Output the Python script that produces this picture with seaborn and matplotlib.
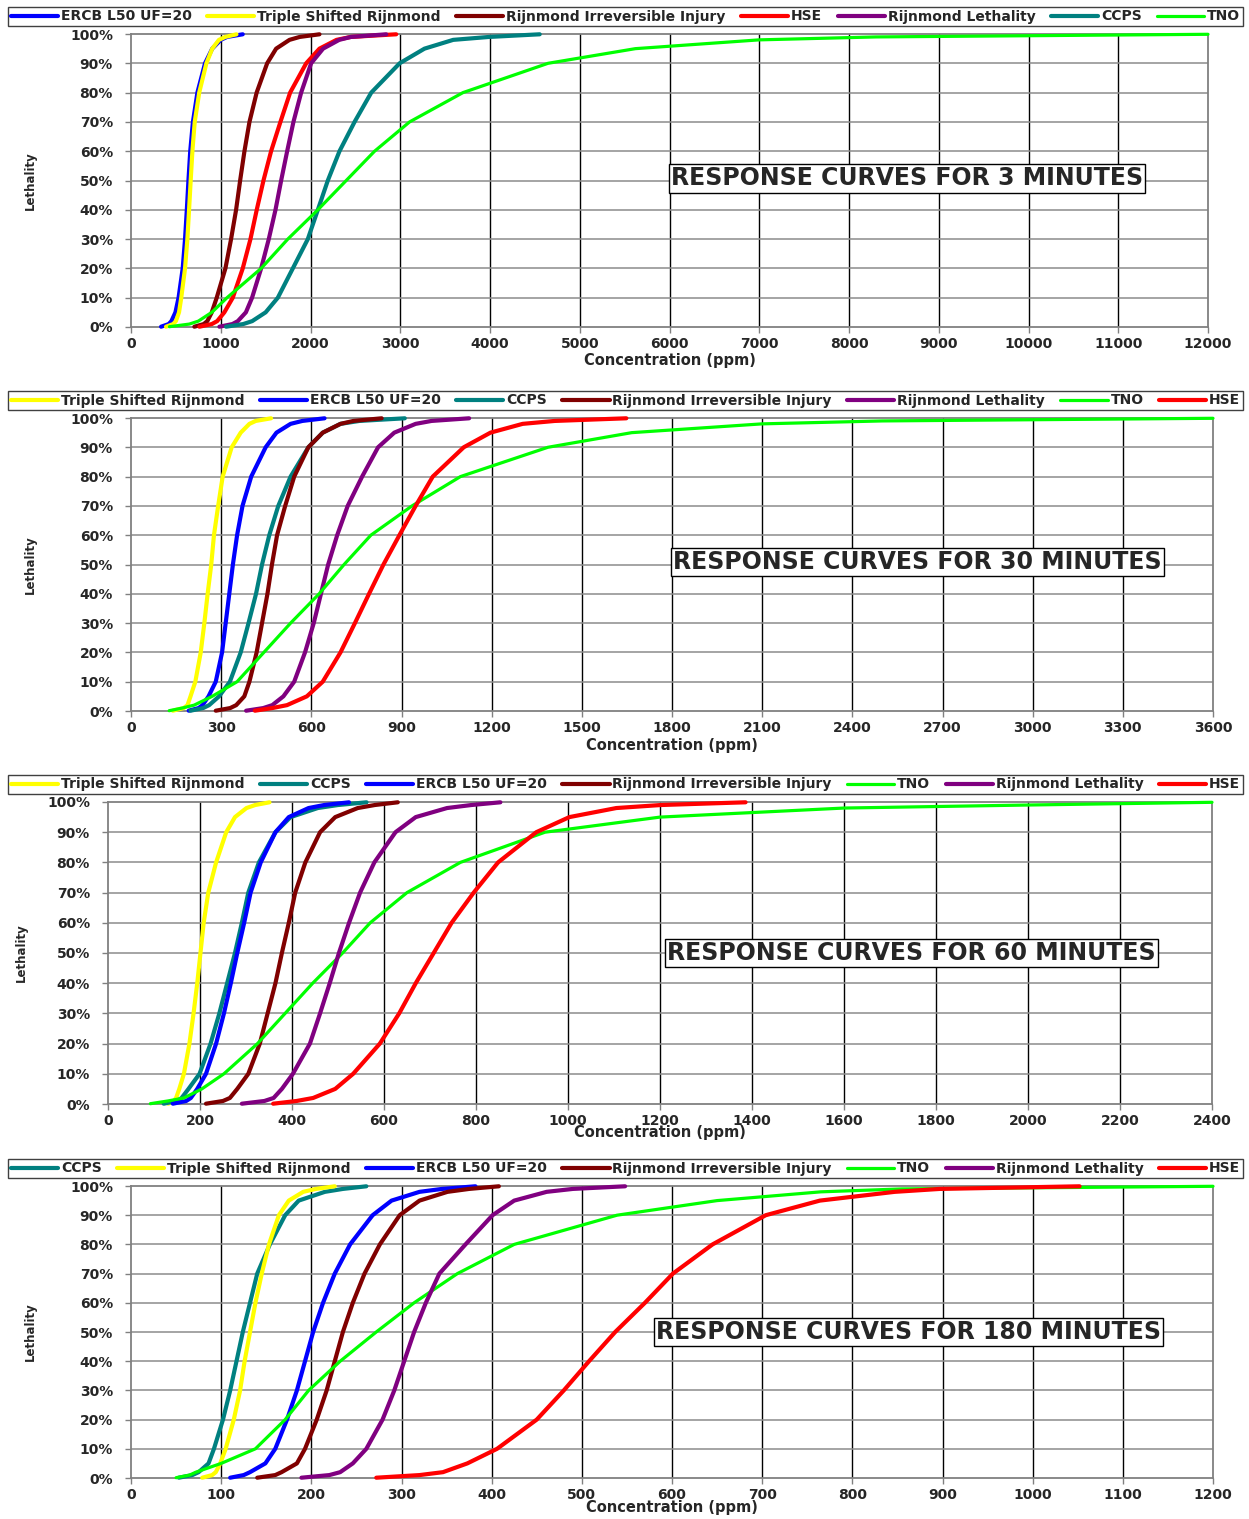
import numpy as np
import pandas as pd
import matplotlib
matplotlib.use("Agg")
import matplotlib.pyplot as plt
import seaborn as sns
from matplotlib.ticker import PercentFormatter, MultipleLocator

# ---------------- data (lethality % levels and concentrations in ppm) ----------------
LEVELS = [0.1, 1, 2, 5, 10, 20, 30, 40, 50, 60, 70, 80, 90, 95, 98, 99, 99.9]

# 3 minutes
M3_ERCB = [335, 420, 450, 495, 530, 576, 602, 622, 640, 660, 690, 740, 825, 905, 1000, 1070, 1245]
M3_TRIPLE = [390, 470, 500, 535, 560, 602, 628, 647, 665, 684, 710, 760, 840, 905, 980, 1050, 1175]
M3_RII = [706, 810, 850, 900, 955, 1052, 1115, 1171, 1216, 1264, 1320, 1400, 1517, 1617, 1766, 1880, 2100]
M3_HSE = [762, 900, 960, 1040, 1134, 1245, 1331, 1401, 1476, 1561, 1665, 1773, 1952, 2100, 2290, 2450, 2955]
M3_RL = [985, 1130, 1190, 1280, 1349, 1450, 1535, 1610, 1673, 1740, 1810, 1896, 2007, 2140, 2320, 2450, 2844]
M3_CCPS = [1059, 1250, 1350, 1500, 1636, 1803, 1970, 2082, 2193, 2323, 2491, 2677, 2993, 3270, 3590, 3990, 4554]
M3_TNO = [428, 650, 750, 900, 1070, 1450, 1747, 2082, 2398, 2714, 3104, 3699, 4647, 5620, 7000, 8300, 12000]

# 30 minutes
M30_TRIPLE = [139, 175, 188, 198, 214, 232, 244, 255, 267, 276, 290, 305, 335, 365, 394, 415, 466]
M30_ERCB = [192, 225, 238, 258, 282, 303, 315, 327, 339, 353, 371, 400, 448, 484, 531, 570, 644]
M30_CCPS = [198, 240, 260, 293, 329, 365, 391, 416, 436, 460, 490, 531, 590, 638, 697, 760, 911]
M30_RII = [282, 330, 350, 377, 394, 418, 436, 454, 469, 486, 513, 543, 590, 638, 697, 740, 834]
M30_RL = [383, 440, 470, 507, 543, 579, 608, 632, 656, 686, 721, 769, 822, 876, 947, 1000, 1125]
M30_TNO = [127, 170, 210, 270, 353, 442, 531, 626, 709, 798, 935, 1096, 1387, 1666, 2100, 2500, 3600]
M30_HSE = [412, 470, 519, 585, 638, 697, 745, 792, 840, 893, 947, 1004, 1107, 1196, 1303, 1410, 1648]

# 60 minutes
M60_TRIPLE = [131, 143, 148, 155, 165, 177, 186, 194, 201, 208, 218, 235, 257, 276, 301, 320, 351]
M60_CCPS = [121, 150, 160, 175, 199, 223, 242, 259, 276, 291, 305, 328, 364, 397, 456, 500, 562]
M60_ERCB = [141, 170, 180, 194, 213, 235, 252, 267, 281, 296, 310, 332, 364, 393, 436, 470, 524]
M60_RII = [213, 250, 265, 281, 305, 330, 347, 364, 378, 393, 407, 429, 461, 494, 543, 580, 630]
M60_TNO = [92, 130, 165, 204, 252, 325, 385, 445, 510, 570, 650, 766, 950, 1200, 1600, 2000, 2400]
M60_RL = [291, 340, 360, 378, 402, 439, 461, 482, 502, 524, 548, 579, 625, 669, 737, 790, 853]
M60_HSE = [359, 410, 446, 494, 533, 591, 633, 669, 708, 747, 795, 848, 931, 1003, 1105, 1202, 1386]

# 180 minutes
M180_CCPS = [53, 68, 75, 86, 92, 102, 110, 117, 124, 132, 140, 154, 171, 186, 215, 235, 261]
M180_TRIPLE = [79, 90, 94, 99, 105, 114, 121, 126, 132, 138, 145, 153, 164, 175, 191, 205, 226]
M180_ERCB = [110, 125, 132, 149, 160, 173, 184, 193, 202, 213, 226, 243, 268, 289, 320, 345, 382]
M180_RII = [140, 160, 167, 184, 193, 206, 217, 226, 235, 246, 259, 276, 298, 320, 351, 375, 408]
M180_TNO = [50, 65, 72, 100, 138, 171, 197, 232, 272, 314, 362, 425, 539, 650, 765, 855, 1200]
M180_RL = [189, 220, 232, 246, 261, 279, 292, 303, 314, 327, 342, 371, 401, 425, 461, 490, 548]
M180_HSE = [272, 320, 346, 373, 406, 450, 480, 508, 537, 570, 601, 645, 704, 764, 847, 897, 1052]

ERCB = "ERCB L50 UF=20"
TRIPLE = "Triple Shifted Rijnmond"
RII = "Rijnmond Irreversible Injury"
HSE = "HSE"
RL = "Rijnmond Lethality"
CCPS = "CCPS"
TNO = "TNO"

COLORS = {ERCB: "#0000FF", TRIPLE: "#FFFF00", RII: "#800000", HSE: "#FF0000",
          RL: "#800080", CCPS: "#008080", TNO: "#00FF00"}
WIDTHS = {ERCB: 3.0, TRIPLE: 3.0, RII: 3.0, HSE: 3.0, RL: 3.0, CCPS: 3.0, TNO: 2.3}

PANELS = [
    dict(title="RESPONSE CURVES FOR 3 MINUTES", xmax=12000, step=1000,
         series=[(ERCB, M3_ERCB), (TRIPLE, M3_TRIPLE), (RII, M3_RII), (HSE, M3_HSE),
                 (RL, M3_RL), (CCPS, M3_CCPS), (TNO, M3_TNO)],
         rect=(131, 34, 1208, 327), leg=(5, 28), tpos=(0.7205, 0.507), ylx=37, xlp=2),
    dict(title="RESPONSE CURVES FOR 30 MINUTES", xmax=3600, step=300,
         series=[(TRIPLE, M30_TRIPLE), (ERCB, M30_ERCB), (CCPS, M30_CCPS), (RII, M30_RII),
                 (RL, M30_RL), (TNO, M30_TNO), (HSE, M30_HSE)],
         rect=(131, 418, 1213, 711), leg=(390, 411), tpos=(0.727, 0.509), ylx=37, xlp=2),
    dict(title="RESPONSE CURVES FOR 60 MINUTES", xmax=2400, step=200,
         series=[(TRIPLE, M60_TRIPLE), (CCPS, M60_CCPS), (ERCB, M60_ERCB), (RII, M60_RII),
                 (TNO, M60_TNO), (RL, M60_RL), (HSE, M60_HSE)],
         rect=(108, 802, 1212, 1104), leg=(774, 795), tpos=(0.728, 0.50), ylx=28, xlp=-2),
    dict(title="RESPONSE CURVES FOR 180 MINUTES", xmax=1200, step=100,
         series=[(CCPS, M180_CCPS), (TRIPLE, M180_TRIPLE), (ERCB, M180_ERCB), (RII, M180_RII),
                 (TNO, M180_TNO), (RL, M180_RL), (HSE, M180_HSE)],
         rect=(131, 1186, 1213, 1478), leg=(1158, 1179), tpos=(0.7186, 0.50), ylx=37, xlp=-1),
]

# ---------------- drawing ----------------
sns.set_theme(style="white")
plt.rcParams["font.family"] = ["DejaVu Sans"]
plt.rcParams["font.weight"] = "bold"
plt.rcParams["axes.labelweight"] = "bold"

W, H = 1249, 1519
fig = plt.figure(figsize=(W / 100, H / 100), dpi=100)
fig.patch.set_facecolor("white")

for p in PANELS:
    x0, y0, x1, y1 = p["rect"]
    ax = fig.add_axes([x0 / W, 1 - y1 / H, (x1 - x0) / W, (y1 - y0) / H])
    for name, vals in p["series"]:
        df = pd.DataFrame({"Concentration (ppm)": vals, "Lethality": LEVELS})
        sns.lineplot(data=df, x="Concentration (ppm)", y="Lethality", color=COLORS[name],
                     lw=WIDTHS[name], label=name, ax=ax, sort=False, estimator=None,
                     clip_on=False, zorder=3)
    handles, labels = ax.get_legend_handles_labels()
    ax.get_legend().remove()

    ax.set_xlim(0, p["xmax"])
    ax.set_ylim(0, 100)
    ax.xaxis.set_major_locator(MultipleLocator(p["step"]))
    ax.yaxis.set_major_locator(MultipleLocator(10))
    ax.yaxis.set_major_formatter(PercentFormatter(xmax=100, decimals=0))
    ax.grid(False)
    for v in np.arange(p["step"], p["xmax"], p["step"]):
        ax.axvline(v, color="black", lw=1.0, zorder=1)
    for v in range(10, 100, 10):
        ax.axhline(v, color="#8c8c8c", lw=1.1, zorder=1)
    for s in ax.spines.values():
        s.set_color("#808080")
        s.set_linewidth(1.3)
    ax.tick_params(axis="both", which="major", bottom=True, left=True, direction="out",
                   length=4, width=1, color="#808080", labelsize=10)
    ax.tick_params(axis="x", pad=3)
    ax.tick_params(axis="y", pad=9)
    for t in ax.get_xticklabels() + ax.get_yticklabels():
        t.set_fontweight("bold")
    ax.set_xlabel("Concentration (ppm)", fontsize=10.5, fontweight="bold", labelpad=p["xlp"])
    ax.set_ylabel("Lethality", fontsize=8.5, fontweight="bold")
    ax.yaxis.set_label_coords(-(x0 - p["ylx"]) / (x1 - x0), 0.5)

    ax.text(p["tpos"][0], p["tpos"][1], p["title"], transform=ax.transAxes,
            ha="center", va="center", fontsize=17, fontweight="bold", zorder=5,
            bbox=dict(boxstyle="square,pad=0.1", fc="white", ec="black", lw=1))

    ly0, ly1 = p["leg"]
    leg = fig.legend(handles, labels, loc="center",
                     bbox_to_anchor=(8 / W, 1 - ly1 / H, 1235 / W, (ly1 - ly0) / H),
                     mode="expand", ncol=7, frameon=True, fancybox=False,
                     edgecolor="#404040", facecolor="white", framealpha=1,
                     borderaxespad=0, borderpad=0.2, handlelength=3.4,
                     handletextpad=0.2, prop=dict(size=10, weight="bold"))
    leg.get_frame().set_linewidth(1.0)

fig.savefig("out.png", dpi=100)
